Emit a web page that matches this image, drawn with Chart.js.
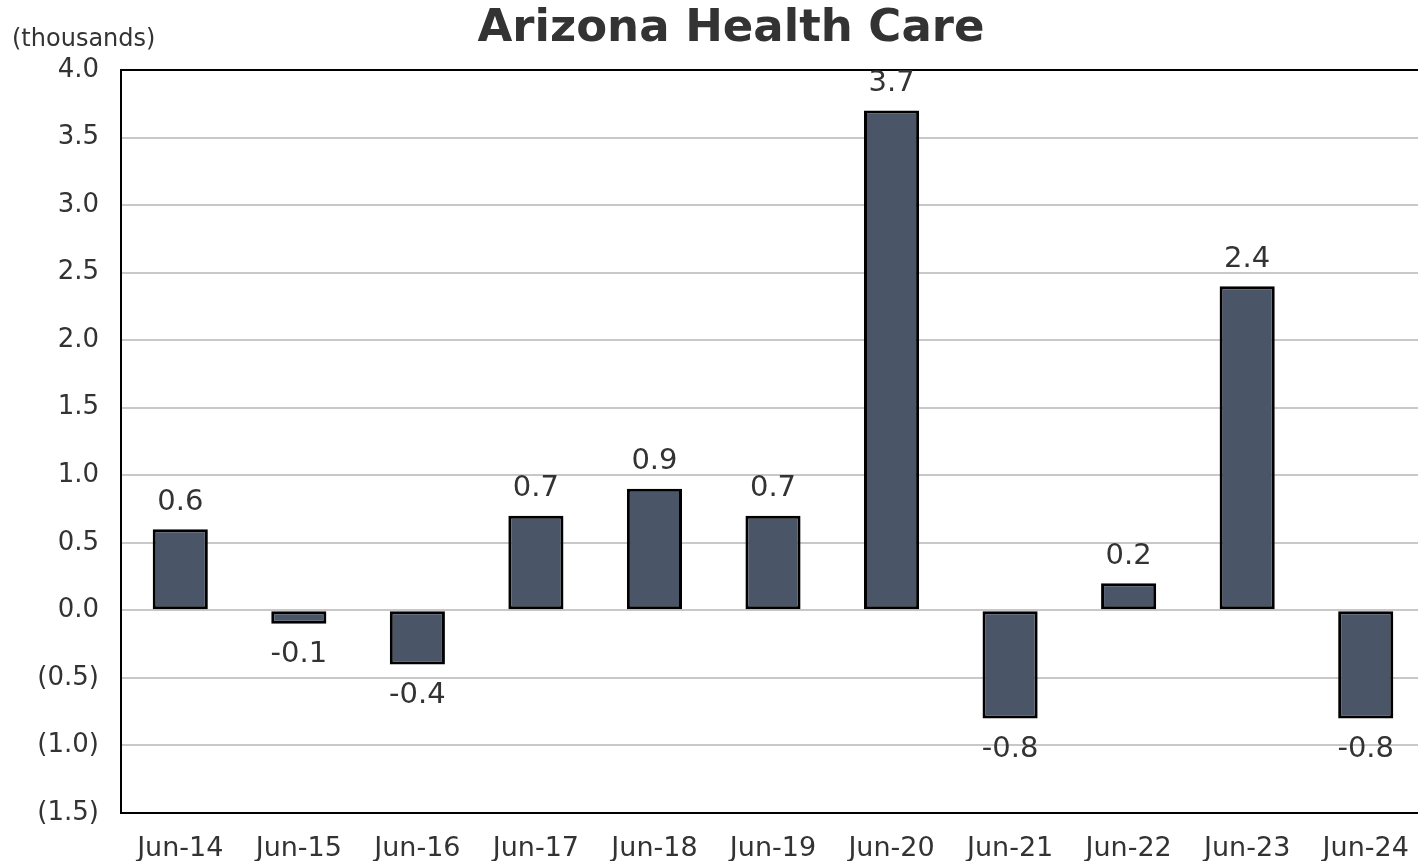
<!DOCTYPE html>
<html>
<head>
<meta charset="utf-8">
<script src="https://cdn.jsdelivr.net/npm/chart.js@4/dist/chart.umd.min.js"></script>
<style>
html,body{margin:0;padding:0;background:#fff;overflow:hidden;}
#wrap{width:1425px;height:861px;position:relative;}
</style>
</head>
<body>
<div id="wrap"><canvas id="c" width="1425" height="861"></canvas></div>
<script>
const categories = ["Jun-14","Jun-15","Jun-16","Jun-17","Jun-18","Jun-19","Jun-20","Jun-21","Jun-22","Jun-23","Jun-24"];
const values = [0.6,-0.1,-0.4,0.7,0.9,0.7,3.7,-0.8,0.2,2.4,-0.8];
const titleText = "Arizona Health Care";
const unitText = "(thousands)";
const yMin = -1.5, yMax = 4.0, yStep = 0.5;

const FONT = "'DejaVu Sans', Verdana, sans-serif";
const TEXT = "#333333";

const extras = {
  id: 'extras',
  afterDraw(chart) {
    const ctx = chart.ctx;
    const a = chart.chartArea;
    ctx.save();
    // top frame line
    ctx.strokeStyle = '#000';
    ctx.lineWidth = 2;
    ctx.beginPath();
    ctx.moveTo(a.left - 1, a.top);
    ctx.lineTo(a.right + 1, a.top);
    ctx.stroke();
    // title
    ctx.fillStyle = TEXT;
    ctx.font = "bold 45px " + FONT;
    ctx.textAlign = 'center';
    ctx.textBaseline = 'middle';
    ctx.fillText(titleText, 731, 29);
    // unit
    ctx.font = "24px " + FONT;
    ctx.textAlign = 'left';
    ctx.fillText(unitText, 12, 40);
    // data labels
    ctx.font = "29px " + FONT;
    ctx.textAlign = 'center';
    const meta = chart.getDatasetMeta(0);
    meta.data.forEach((bar, i) => {
      const v = values[i];
      const y = v >= 0 ? bar.y - 27 : bar.y + 31;
      ctx.fillText(v.toFixed(1), bar.x, y);
    });
    ctx.restore();
  }
};

new Chart(document.getElementById('c'), {
  type: 'bar',
  data: {
    labels: categories,
    datasets: [{
      data: values,
      backgroundColor: '#4a5568',
      borderColor: '#000000',
      borderWidth: 3,
      borderSkipped: false,
      barPercentage: 0.465,
      categoryPercentage: 1.0
    }]
  },
  options: {
    responsive: false,
    animation: false,
    layout: { padding: { top: 70, left: 0, right: 0, bottom: 0 } },
    plugins: { legend: { display: false }, title: { display: false }, tooltip: { enabled: false } },
    scales: {
      x: {
        grid: { display: false },
        border: { display: true, color: '#000', width: 2 },
        ticks: { color: TEXT, font: { family: FONT, size: 27 }, padding: 12, maxRotation: 0, autoSkip: false },
        afterFit(s) { s.height = 48; }
      },
      y: {
        min: yMin, max: yMax,
        grid: { color: '#c8c8c8', lineWidth: 2, drawTicks: false },
        border: { display: true, color: '#000', width: 2 },
        ticks: {
          stepSize: yStep,
          color: TEXT,
          font: { family: FONT, size: 26 },
          padding: 22,
          callback: (v) => v < 0 ? '(' + Math.abs(v).toFixed(1) + ')' : v.toFixed(1)
        },
        afterFit(s) { s.width = 121; }
      }
    }
  },
  plugins: [extras]
});
</script>
</body>
</html>
